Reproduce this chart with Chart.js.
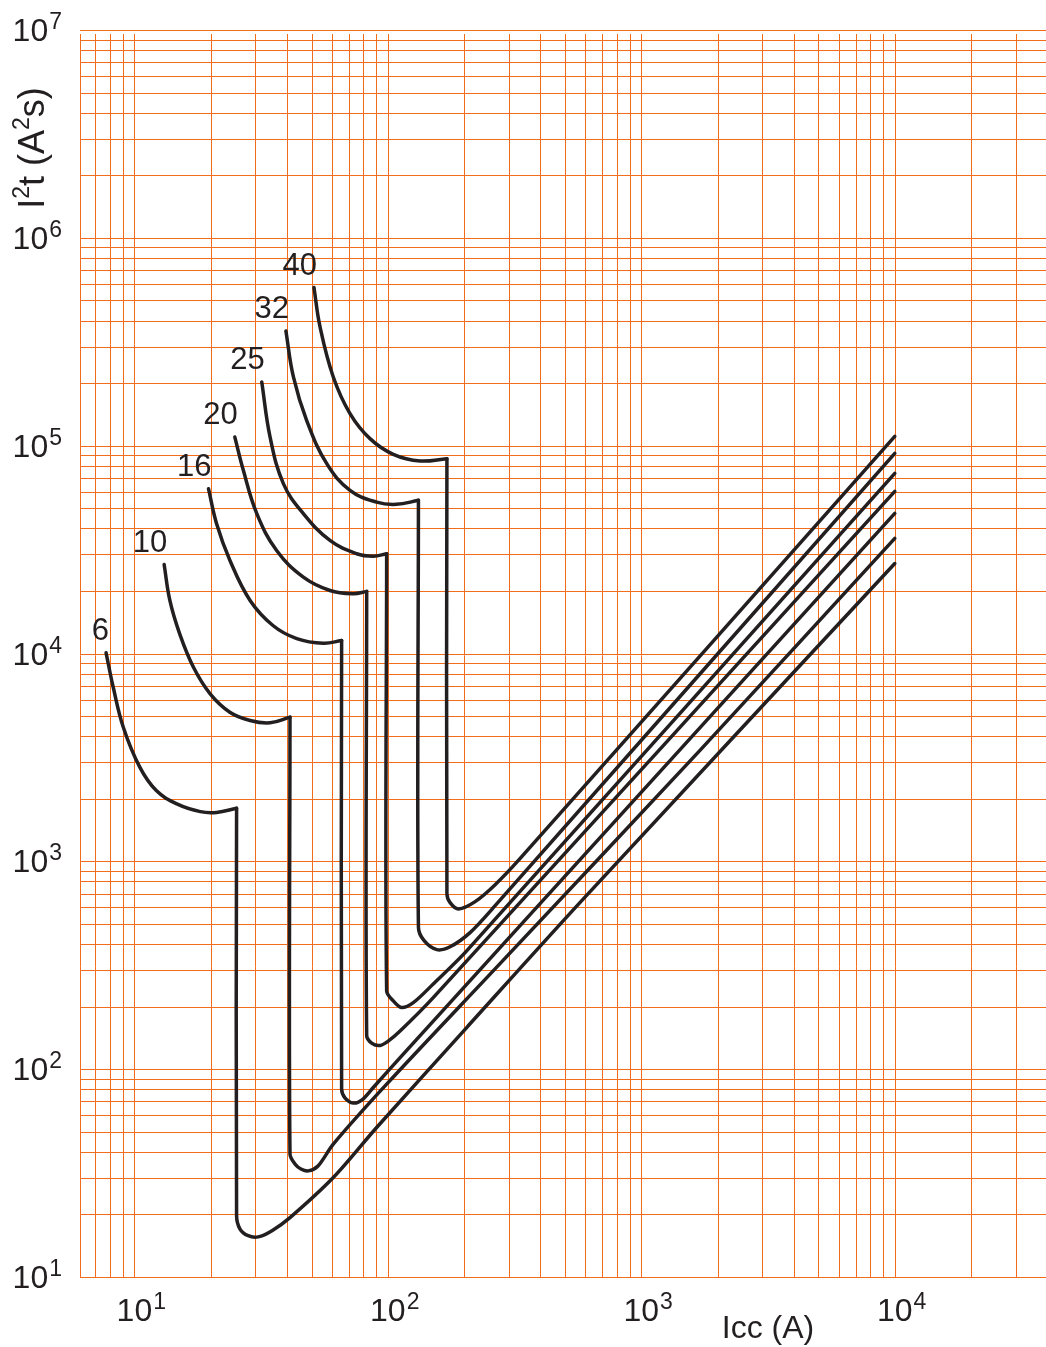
<!DOCTYPE html>
<html>
<head>
<meta charset="utf-8">
<script src="https://cdn.jsdelivr.net/npm/chart.js"></script>
<style>
  html, body { margin: 0; padding: 0; background: #fff; }
  canvas { display: block; }
</style>
</head>
<body>
<canvas id="myChart" width="1046" height="1347"></canvas>
<script>
// breaker ratings (A), one curve each
const ratings = ['6', '10', '16', '20', '25', '32', '40'];

// Icc (A) and I2t (A2s), in drawing order
const icc6 = [7.73, 8.25, 9.04, 10.5, 12.2, 14.7, 18.2, 21.1, 25.3, 25.3, 26.1, 28.1, 30.8, 34.9, 41.1, 60.9, 90.3, 205, 582, 10000];
const i2t6 = [10080, 6880, 4420, 2840, 2190, 1890, 1735, 1720, 1800, 19.7, 17.0, 15.8, 15.6, 16.7, 19.3, 30.1, 52.4, 159, 647, 27100];

const icc10 = [13.1, 13.8, 15.1, 17.1, 19.9, 23.8, 28.6, 34.3, 41.1, 41.1, 43.0, 45.4, 48.5, 53.0, 60.9, 98.9, 277, 1700, 10000];
const i2t10 = [26800, 18000, 12400, 8590, 6400, 5220, 4760, 4640, 4940, 39.0, 35.0, 33.1, 32.4, 34.2, 43.6, 84.7, 322, 3410, 35800];

const icc16 = [19.6, 21.1, 23.8, 28.6, 35.3, 43.7, 55.6, 65.7, 65.7, 67.7, 73.0, 79.1, 87.6, 112, 10000];
const i2t16 = [62100, 42100, 28100, 18000, 13600, 11800, 11200, 11550, 80.2, 72.8, 68.7, 71.2, 81.6, 114, 47200];

const icc20 = [24.9, 26.9, 30.4, 36.4, 46.4, 59.1, 73.0, 82.5, 82.5, 86.6, 93.1, 100, 112, 151, 10000];
const i2t20 = [110000, 76100, 47100, 31300, 23300, 20100, 19400, 19900, 145, 133, 130, 136, 153, 221, 60300];

const icc25 = [31.8, 34.3, 38.7, 46.4, 59.1, 75.3, 87.6, 98.9, 98.9, 105, 113, 126, 151, 205, 10000];
const i2t25 = [202500, 110000, 65700, 47100, 35000, 30200, 29400, 30200, 238, 213, 198, 209, 257, 372, 73600];

const icc32 = [39.6, 42.4, 47.8, 57.4, 70.9, 90.3, 108, 132, 132, 139, 156, 176, 211, 265, 10000];
const i2t32 = [356500, 214100, 132500, 81900, 61000, 53500, 52200, 54600, 481, 415, 376, 388, 454, 612, 91900];

const icc40 = [51.1, 54.0, 60.9, 70.9, 85.0, 105, 134, 171, 171, 176, 190, 221, 265, 332, 10000];
const i2t40 = [576800, 372700, 214100, 142700, 108100, 90900, 84400, 86600, 699, 633, 590, 640, 772, 1030, 110900];

// axis labels are 10^n
const xExponents = [1, 2, 3, 4];
const yExponents = [1, 2, 3, 4, 5, 6, 7];
const gridMantissas = [1, 2, 3, 4, 5, 6, 7, 8, 9];

const X_MIN = 6.1, X_MAX = 39500;
const Y_MIN = 10, Y_MAX = 1e7;

const gridColor = 'rgb(242, 108, 26)';
const inkColor = '#231f20';
const FONT = '"Liberation Sans", Arial, sans-serif';

const allIcc = [icc6, icc10, icc16, icc20, icc25, icc32, icc40];
const allI2t = [i2t6, i2t10, i2t16, i2t20, i2t25, i2t32, i2t40];

// each curve is drawn in two pieces: the thermal bend (labelled),
// then the magnetic drop and the rising let-through line
const datasets = [];
ratings.forEach((r, i) => {
  const pts = allIcc[i].map((x, j) => ({ x: x, y: allI2t[i][j] }));
  let k = 0;
  while (k < pts.length - 1 && pts[k].x !== pts[k + 1].x) k++;
  const base = {
    borderColor: inkColor,
    borderWidth: 3.5,
    pointRadius: 0,
    fill: false,
    borderJoinStyle: 'round',
    borderCapStyle: 'round'
  };
  datasets.push(Object.assign({}, base, { label: r, isHead: true, data: pts.slice(0, k + 1), tension: 0.4 }));
  datasets.push(Object.assign({}, base, { label: r, isHead: false, data: pts.slice(k), tension: 0.3 }));
});

// grid at every 1..9 x 10^n
function gridValues(min, max) {
  const vals = [];
  for (let e = 0; e <= 7; e++) {
    gridMantissas.forEach(m => {
      const v = m * Math.pow(10, e);
      if (v >= min * 0.999 && v <= max * 1.001) vals.push(v);
    });
  }
  return vals;
}

const gridPlugin = {
  id: 'gridPlugin',
  beforeDatasetsDraw(chart) {
    const ctx = chart.ctx;
    const area = chart.chartArea;
    const xs = chart.scales.x, ys = chart.scales.y;
    ctx.save();
    ctx.strokeStyle = gridColor;
    ctx.lineWidth = 1;
    ctx.beginPath();
    gridValues(X_MIN, X_MAX).forEach(v => {
      const px = Math.round(xs.getPixelForValue(v)) + 0.5;
      ctx.moveTo(px, area.top + 4);
      ctx.lineTo(px, area.bottom);
    });
    const lx = Math.round(area.left) + 0.5;
    ctx.moveTo(lx, area.top + 4);
    ctx.lineTo(lx, area.bottom);
    gridValues(Y_MIN, Y_MAX).forEach(v => {
      const py = Math.round(ys.getPixelForValue(v)) + 0.5;
      ctx.moveTo(area.left, py);
      ctx.lineTo(area.right, py);
    });
    ctx.stroke();
    ctx.restore();
  }
};

const labelPlugin = {
  id: 'labelPlugin',
  afterDraw(chart) {
    const ctx = chart.ctx;
    const area = chart.chartArea;
    const xs = chart.scales.x, ys = chart.scales.y;
    ctx.save();
    ctx.fillStyle = inkColor;
    ctx.textBaseline = 'alphabetic';

    // y tick labels
    yExponents.forEach(e => {
      const py = ys.getPixelForValue(Math.pow(10, e));
      ctx.font = '23px ' + FONT;
      ctx.textAlign = 'right';
      const supW = ctx.measureText(String(e)).width;
      ctx.fillText(String(e), area.left - 18, py - 1);
      ctx.font = '32px ' + FONT;
      ctx.fillText('10', area.left - 18 - supW - 1, py + 11);
    });

    // x tick labels
    xExponents.forEach(e => {
      const px = xs.getPixelForValue(Math.pow(10, e));
      ctx.font = '32px ' + FONT;
      ctx.textAlign = 'center';
      const w = ctx.measureText('10').width;
      ctx.fillText('10', px, area.bottom + 44);
      ctx.font = '23px ' + FONT;
      ctx.textAlign = 'left';
      ctx.fillText(String(e), px + w / 2 + 1, area.bottom + 32);
    });

    // x title, between 10^3 and 10^4
    const tx = (xs.getPixelForValue(1e3) + xs.getPixelForValue(1e4)) / 2;
    ctx.font = '32px ' + FONT;
    ctx.textAlign = 'center';
    ctx.fillText('Icc (A)', tx, area.bottom + 61);

    // y title, rotated
    const parts = [['I', 36, 0], ['2', 23, -15], ['t (A', 36, 0], ['2', 23, -15], ['s)', 36, 0]];
    let total = 0;
    parts.forEach(p => { ctx.font = p[1] + 'px ' + FONT; p.push(ctx.measureText(p[0]).width); total += p[3]; });
    ctx.save();
    ctx.translate(area.left - 36, area.top + 118);
    ctx.rotate(-Math.PI / 2);
    ctx.textAlign = 'left';
    let cx = -total / 2;
    parts.forEach(p => {
      ctx.font = p[1] + 'px ' + FONT;
      ctx.fillText(p[0], cx, p[2]);
      cx += p[3];
    });
    ctx.restore();

    // rating label above the start of each curve
    ctx.font = '31px ' + FONT;
    ctx.textAlign = 'right';
    chart.data.datasets.forEach(ds => {
      if (!ds.isHead) return;
      const p0 = ds.data[0];
      const px = xs.getPixelForValue(p0.x), py = ys.getPixelForValue(p0.y);
      ctx.fillText(ds.label, px + 3, py - 13);
    });
    ctx.restore();
  }
};

new Chart(document.getElementById('myChart'), {
  type: 'line',
  data: { datasets: datasets },
  plugins: [gridPlugin, labelPlugin],
  options: {
    responsive: false,
    animation: false,
    events: [],
    layout: { padding: { left: 80, top: 30, right: 0, bottom: 70 } },
    plugins: { legend: { display: false }, tooltip: { enabled: false } },
    scales: {
      x: {
        type: 'logarithmic',
        min: X_MIN,
        max: X_MAX,
        ticks: { display: false },
        grid: { display: false, drawTicks: false },
        border: { display: false }
      },
      y: {
        type: 'logarithmic',
        min: Y_MIN,
        max: Y_MAX,
        ticks: { display: false },
        grid: { display: false, drawTicks: false },
        border: { display: false }
      }
    }
  }
});
</script>
</body>
</html>
